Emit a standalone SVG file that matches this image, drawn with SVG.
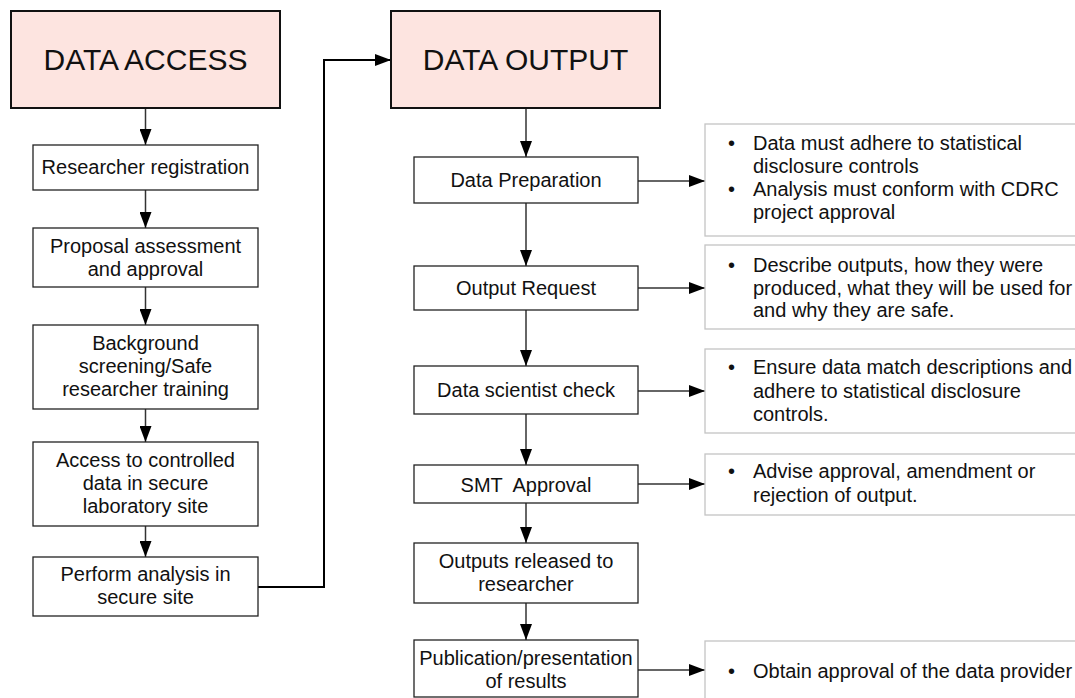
<svg xmlns="http://www.w3.org/2000/svg" width="1075" height="698" viewBox="0 0 1075 698">
<defs>
<marker id="ah" markerUnits="userSpaceOnUse" markerWidth="16" markerHeight="12" refX="16" refY="6" orient="auto">
<path d="M0,0 L16,6 L0,12 z" fill="#000"/>
</marker>
<style>
.hd{fill:#fde4e0;stroke:#111;stroke-width:2}
.bx{fill:#fff;stroke:#222;stroke-width:1.3}
.nt{fill:#fff;stroke:#c4c4c4;stroke-width:1.3}
.ht{font-family:"Liberation Sans",Arial,sans-serif;font-size:30px;fill:#111;text-anchor:middle}
.t{font-family:"Liberation Sans",Arial,sans-serif;font-size:20px;fill:#111;text-anchor:middle}
.n{font-family:"Liberation Sans",Arial,sans-serif;font-size:20px;fill:#111}
.c{fill:none;stroke:#333;stroke-width:1.5;marker-end:url(#ah)}
</style>
</defs>
<g id="connectors">
<path class="c" d="M145.5,108 V145"/>
<path class="c" d="M145.5,190 V228"/>
<path class="c" d="M145.5,287 V325"/>
<path class="c" d="M145.5,409 V442"/>
<path class="c" d="M145.5,526 V557"/>
<path class="c" d="M258,587 H324 V60 H391" style="stroke:#000;stroke-width:2"/>
<path class="c" d="M526,108 V157"/>
<path class="c" d="M526,203 V266"/>
<path class="c" d="M526,310 V366"/>
<path class="c" d="M526,414 V465"/>
<path class="c" d="M526,503 V543"/>
<path class="c" d="M526,603 V640"/>
<path class="c" d="M638,181 H705"/>
<path class="c" d="M638,288 H705"/>
<path class="c" d="M638,391 H705"/>
<path class="c" d="M638,484 H705"/>
<path class="c" d="M638,670 H705"/>
</g>
<g id="data-access">
<rect class="hd" x="11" y="11" width="269" height="97"/>
<text class="ht" x="145.5" y="70">DATA ACCESS</text>
</g>
<g id="researcher-registration">
<rect class="bx" x="33" y="145" width="225" height="45"/>
<text class="t" x="145.5" y="174">Researcher registration</text>
</g>
<g id="proposal-assessment">
<rect class="bx" x="33" y="228" width="225" height="59"/>
<text class="t" x="145.5" y="253">Proposal assessment</text>
<text class="t" x="145.5" y="276">and approval</text>
</g>
<g id="background-screening">
<rect class="bx" x="33" y="325" width="225" height="84"/>
<text class="t" x="145.5" y="350">Background</text>
<text class="t" x="145.5" y="373">screening/Safe</text>
<text class="t" x="145.5" y="396">researcher training</text>
</g>
<g id="access-controlled">
<rect class="bx" x="33" y="442" width="225" height="84"/>
<text class="t" x="145.5" y="467">Access to controlled</text>
<text class="t" x="145.5" y="490">data in secure</text>
<text class="t" x="145.5" y="513">laboratory site</text>
</g>
<g id="perform-analysis">
<rect class="bx" x="33" y="557" width="225" height="59"/>
<text class="t" x="145.5" y="581">Perform analysis in</text>
<text class="t" x="145.5" y="604">secure site</text>
</g>
<g id="data-output">
<rect class="hd" x="391" y="11" width="269" height="97"/>
<text class="ht" x="525.5" y="70">DATA OUTPUT</text>
</g>
<g id="data-preparation">
<rect class="bx" x="414" y="157" width="224" height="46"/>
<text class="t" x="526" y="187">Data Preparation</text>
</g>
<g id="output-request">
<rect class="bx" x="414" y="266" width="224" height="44"/>
<text class="t" x="526" y="295">Output Request</text>
</g>
<g id="data-scientist-check">
<rect class="bx" x="414" y="366" width="224" height="48"/>
<text class="t" x="526" y="397">Data scientist check</text>
</g>
<g id="smt-approval">
<rect class="bx" x="414" y="465" width="224" height="38"/>
<text class="t" x="526" y="492" xml:space="preserve">SMT  Approval</text>
</g>
<g id="outputs-released">
<rect class="bx" x="414" y="543" width="224" height="60"/>
<text class="t" x="526" y="568">Outputs released to</text>
<text class="t" x="526" y="591">researcher</text>
</g>
<g id="publication">
<rect class="bx" x="414" y="640" width="224" height="57"/>
<text class="t" x="526" y="665">Publication/presentation</text>
<text class="t" x="526" y="688">of results</text>
</g>
<g id="note-preparation">
<rect class="nt" x="705" y="124" width="380" height="112"/>
<text class="n" x="728" y="150">•</text><text class="n" x="753" y="150">Data must adhere to statistical</text>
<text class="n" x="753" y="173">disclosure controls</text>
<text class="n" x="728" y="196">•</text><text class="n" x="753" y="196">Analysis must conform with CDRC</text>
<text class="n" x="753" y="219">project approval</text>
</g>
<g id="note-request">
<rect class="nt" x="705" y="245" width="380" height="84"/>
<text class="n" x="728" y="272">•</text><text class="n" x="753" y="272">Describe outputs, how they were</text>
<text class="n" x="753" y="295">produced, what they will be used for</text>
<text class="n" x="753" y="317">and why they are safe.</text>
</g>
<g id="note-check">
<rect class="nt" x="705" y="349" width="380" height="84"/>
<text class="n" x="728" y="374">•</text><text class="n" x="753" y="374">Ensure data match descriptions and</text>
<text class="n" x="753" y="398">adhere to statistical disclosure</text>
<text class="n" x="753" y="421">controls.</text>
</g>
<g id="note-smt">
<rect class="nt" x="705" y="454" width="380" height="61"/>
<text class="n" x="728" y="478">•</text><text class="n" x="753" y="478">Advise approval, amendment or</text>
<text class="n" x="753" y="502">rejection of output.</text>
</g>
<g id="note-publication">
<rect class="nt" x="705" y="641" width="380" height="70"/>
<text class="n" x="728" y="678">•</text><text class="n" x="753" y="678">Obtain approval of the data provider</text>
</g>
</svg>
